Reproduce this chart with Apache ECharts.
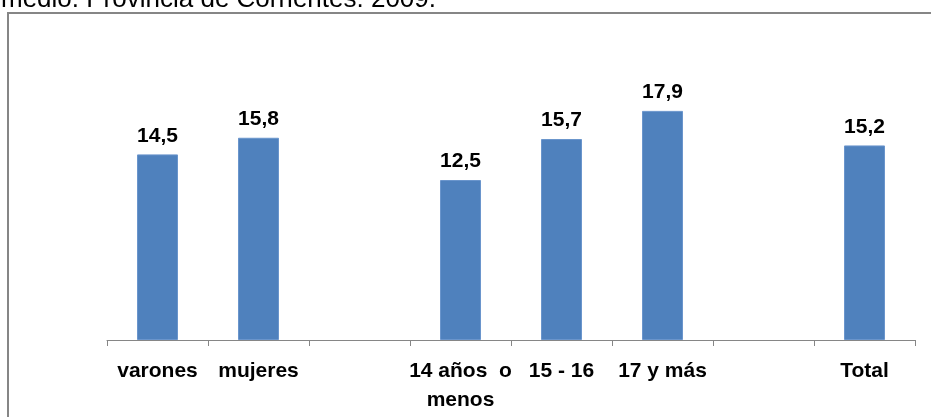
<!DOCTYPE html>
<html>
<head>
<meta charset="utf-8">
<script src="https://cdn.jsdelivr.net/npm/echarts@6/dist/echarts.min.js"></script>
<style>
html,body{margin:0;padding:0;background:#fff;}
#chart{width:931px;height:417px;}
</style>
</head>
<body>
<div id="chart"></div>
<script>
var titleText = 'medio. Provincia de Corrientes. 2009.';
var categories = ['varones', 'mujeres', '', '14 años  o\nmenos', '15 - 16', '17 y más', '', 'Total'];
var values = [14.5, 15.8, null, 12.5, 15.7, 17.9, null, 15.2];

var chart = echarts.init(document.getElementById('chart'));
chart.setOption({
  animation: false,
  backgroundColor: '#ffffff',
  graphic: [
    {
      type: 'rect',
      shape: { x: 8, y: 13, width: 1000, height: 600 },
      style: { fill: 'none', stroke: '#868686', lineWidth: 2 },
      z: -1
    },
    {
      type: 'text',
      left: 1,
      top: -13,
      style: {
        text: titleText,
        font: '26px "Liberation Sans", Arial, sans-serif',
        fill: '#000000'
      }
    }
  ],
  grid: { left: 107, right: 16, top: 84, bottom: 77 },
  xAxis: {
    type: 'category',
    data: categories,
    axisLine: { show: true, lineStyle: { color: '#868686', width: 1 } },
    axisTick: { show: true, alignWithLabel: false, interval: 0, length: 6, lineStyle: { color: '#868686' } },
    axisLabel: {
      interval: 0,
      color: '#000000',
      fontFamily: '"Liberation Sans", Arial, sans-serif',
      fontWeight: 'bold',
      fontSize: 21,
      lineHeight: 29,
      margin: 17
    }
  },
  yAxis: {
    type: 'value',
    min: 0,
    max: 20,
    show: false,
    splitLine: { show: false }
  },
  series: [{
    type: 'bar',
    data: values,
    barWidth: 41,
    itemStyle: { color: '#4F81BD', borderColor: '#6A95CC', borderWidth: 1 },
    label: {
      show: true,
      position: 'top',
      distance: 8,
      color: '#000000',
      fontFamily: '"Liberation Sans", Arial, sans-serif',
      fontWeight: 'bold',
      fontSize: 21,
      formatter: function (p) { return p.value == null ? '' : String(p.value).replace('.', ','); }
    }
  }]
});
</script>
</body>
</html>
